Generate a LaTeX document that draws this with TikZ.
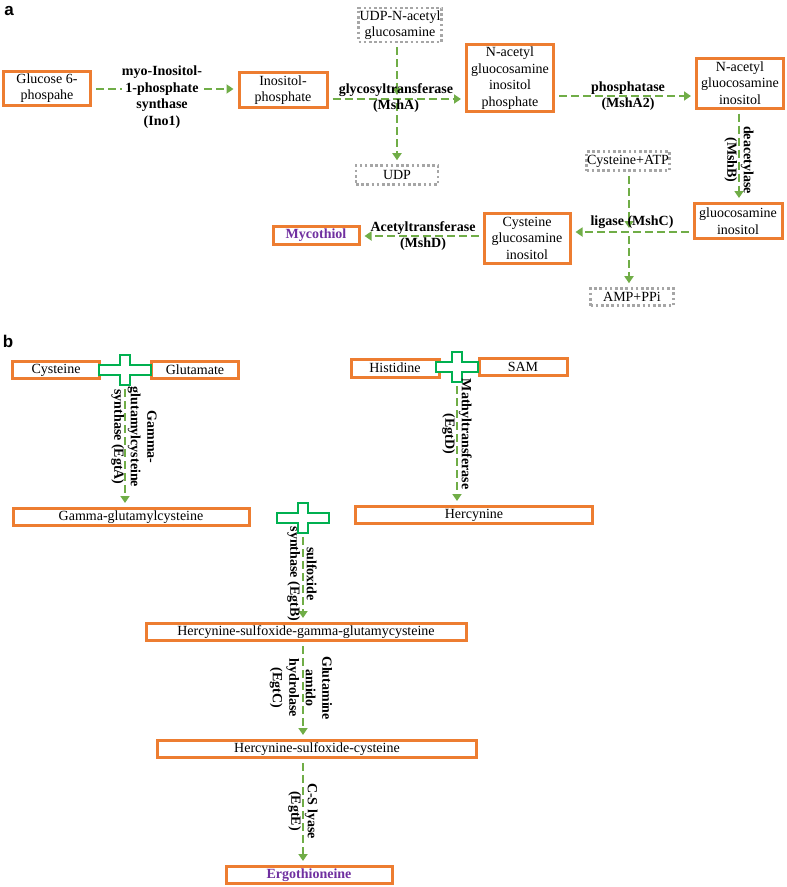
\documentclass[tikz,border=0pt]{standalone}
\usepackage{fontspec}
\setmainfont{Liberation Serif}
\newfontfamily\panelfont{Liberation Sans}
\usetikzlibrary{arrows.meta}
\definecolor{boxorange}{HTML}{ED7D31}
\definecolor{flowgreen}{HTML}{70AD47}
\definecolor{plusgreen}{HTML}{00B050}
\definecolor{cofgray}{HTML}{A6A6A6}
\definecolor{prodpurple}{HTML}{7030A0}
\newcommand{\boxfont}{\fontsize{14}{16.5}\selectfont}
% plus sign: name, x, y, half width of the bar
\newcommand{\plusmark}[4]{%
  \begin{scope}[shift={(#2,#3)}]
    \draw[plusline] (-#4,-5) -- (-5,-5) -- (-5,-15) -- (5,-15) -- (5,-5) -- (#4,-5)
      -- (#4,5) -- (5,5) -- (5,15) -- (-5,15) -- (-5,5) -- (-#4,5) -- cycle;
    \coordinate (#1) at (0,15);
  \end{scope}}

\begin{document}
\begin{tikzpicture}[x=1pt, y=-1pt,
    chem/.style={draw=boxorange, line width=3pt, fill=white, align=center, inner sep=0pt, font=\boxfont},
    cof/.style={draw=cofgray, line width=2.6pt, dash pattern=on 2.6pt off 2.6pt, align=center, inner sep=0pt, font=\boxfont},
    enz/.style={align=center, inner sep=0pt, font=\boxfont\bfseries},
    prod/.style={text=prodpurple, font=\boxfont\bfseries},
    flow/.style={draw=flowgreen, line width=2.8pt, dash pattern=on 8pt off 4pt,
      -{Triangle[length=7pt,width=9pt]}, shorten <=4pt, shorten >=4pt},
    plusline/.style={draw=plusgreen, line width=1.8pt, fill=white},
    panel/.style={font=\panelfont\bfseries\fontsize{17}{17}\selectfont, inner sep=0pt}]

    \useasboundingbox (0,0) rectangle (787,887);

    % panel a
    \node[panel] (pa) at (9,11) {a};

    \node[chem, minimum width=87pt, minimum height=34pt] (glc) at (47,88) {Glucose 6-\\phospahe};
    \node[chem, minimum width=88pt, minimum height=35pt] (inos) at (283,90) {Inositol-\\phosphate};
    \node[cof, minimum width=83pt, minimum height=34pt] (udpnac) at (400,25) {UDP-N-acetyl\\glucosamine};
    \node[cof, minimum width=82pt, minimum height=19pt] (udp) at (397,175) {UDP};
    \node[chem, minimum width=87pt, minimum height=67pt] (nagip) at (510,78) {N-acetyl\\gluocosamine\\inositol\\phosphate};
    \node[chem, minimum width=87pt, minimum height=50pt] (nagi) at (740,83) {N-acetyl\\gluocosamine\\inositol};
    \node[chem, minimum width=88pt, minimum height=35pt] (gi) at (738,221) {gluocosamine\\inositol};
    \node[cof, minimum width=83pt, minimum height=19pt] (cysatp) at (628,161) {Cysteine+ATP};
    \node[cof, minimum width=83pt, minimum height=17pt] (amp) at (632,297) {AMP+PPi};
    \node[chem, minimum width=86pt, minimum height=50pt] (cgi) at (527,238) {Cysteine\\glucosamine\\inositol};
    \node[chem, prod, minimum width=86pt, minimum height=18pt] (myc) at (316,235) {Mycothiol};

    \coordinate (jA) at (397,99);
    \coordinate (jC) at (629,232);

    \draw[flow] (glc.east |- 0,89) -- (inos.west |- 0,89);
    \node[enz, fill=white] (lblIno) at (162,97) {myo-Inositol-\\1-phosphate\\synthase\\(Ino1)};

    \draw[flow] (inos.east |- jA) -- (nagip.west |- jA);
    \draw[flow] (udpnac.south -| jA) -- (jA);
    \draw[flow] (jA) -- (jA |- udp.north);
    \node[enz] (lblMshA) at (396,98) {glycosyltransferase\\(MshA)};

    \node[enz] (lblMshA2) at (628,96) {phosphatase\\(MshA2)};
    \draw[flow] (nagip.east |- lblMshA2) -- (nagi.west |- lblMshA2);

    \draw[flow] (nagi.south -| 739,0) -- (gi.north -| 739,0);
    \node[enz, rotate=-90] (lblMshB) at (739,160) {deacetylase\\(MshB)};

    \draw[flow] (gi.west |- jC) -- (cgi.east |- jC);
    \draw[flow] (cysatp.south -| jC) -- (jC);
    \draw[flow] (jC) -- (jC |- amp.north);
    \node[enz] (lblMshC) at (632,222) {ligase (MshC)};

    \node[enz] (lblMshD) at (423,236) {Acetyltransferase\\(MshD)};
    \draw[flow] (cgi.west |- lblMshD) -- (myc.east |- lblMshD);

    % panel b
    \node[panel] (pb) at (8,341) {b};

    \node[chem, minimum width=87pt, minimum height=17pt] (cys) at (56,370) {Cysteine};
    \node[chem, minimum width=87pt, minimum height=17pt] (glu) at (195,370) {Glutamate};
    \node[chem, minimum width=236pt, minimum height=17pt] (gglu) at (131,517) {Gamma-glutamylcysteine};
    \node[chem, minimum width=88pt, minimum height=18pt] (his) at (395,368) {Histidine};
    \node[chem, minimum width=88pt, minimum height=17pt] (sam) at (523,367) {SAM};
    \node[chem, minimum width=237pt, minimum height=17pt] (herc) at (474,515) {Hercynine};
    \node[chem, minimum width=320pt, minimum height=17pt] (hsgg) at (306,632) {Hercynine-sulfoxide-gamma-glutamycysteine};
    \node[chem, minimum width=319pt, minimum height=17pt] (hsc) at (317,749) {Hercynine-sulfoxide-cysteine};
    \node[chem, prod, minimum width=166pt, minimum height=17pt] (ergo) at (309,875) {Ergothioneine};

    \plusmark{pA}{125}{370}{26}
    \plusmark{pB}{457}{367}{21}
    \plusmark{pC}{303}{518}{26}

    \draw[flow] (pA) -- (pA |- gglu.north);
    \node[enz, rotate=-90] (lblEgtA) at (134,437) {Gamma-\\glutamylcysteine\\synthase (EgtA)};

    \draw[flow] (pB) -- (pB |- herc.north);
    \node[enz, rotate=-90] (lblEgtD) at (457,434) {Mathyltransferase\\(EgtD)};

    \draw[flow] (pC) -- (pC |- hsgg.north);
    \node[enz, rotate=-90] (lblEgtB) at (302,574) {sulfoxide\\synthase (EgtB)};

    \draw[flow] (hsgg.south -| pC) -- (pC |- hsc.north);
    \node[enz, rotate=-90] (lblEgtC) at (301,688) {Glutamine\\amido\\hydrolase\\(EgtC)};

    \draw[flow] (hsc.south -| pC) -- (pC |- ergo.north);
    \node[enz, rotate=-90] (lblEgtE) at (303,811) {C-S lyase\\(EgtE)};
\end{tikzpicture}
\end{document}
